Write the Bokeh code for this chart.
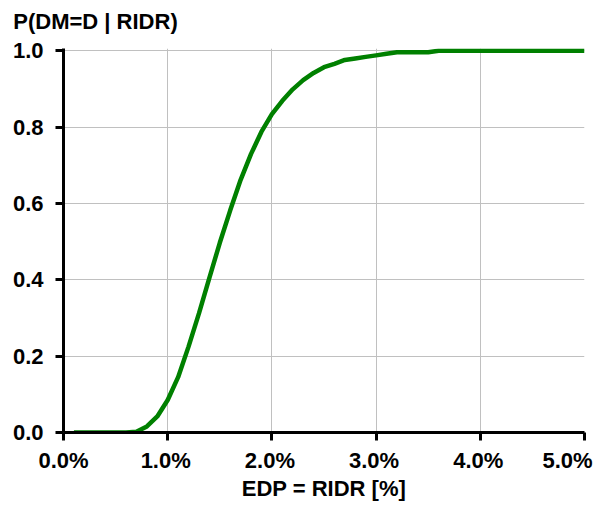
from bokeh.plotting import figure
from bokeh.models import Range1d, FixedTicker, LinearAxis
from bokeh.embed import file_html
from bokeh.resources import INLINE

# ---- data ----
edp = [0.1, 0.2, 0.3, 0.4, 0.5, 0.6, 0.7, 0.8, 0.9, 1.0,
       1.1, 1.2, 1.3, 1.4, 1.5, 1.6, 1.7, 1.8, 1.9, 2.0,
       2.1, 2.2, 2.3, 2.4, 2.5, 2.6, 2.7, 2.8, 2.9, 3.0,
       3.1, 3.2, 3.3, 3.4, 3.5, 3.6, 5.0]
prob = [0.0, 0.0, 0.0, 0.0, 0.0, 0.0, 0.002, 0.016, 0.042, 0.085,
        0.145, 0.225, 0.312, 0.405, 0.497, 0.582, 0.662, 0.730, 0.788, 0.834,
        0.869, 0.899, 0.923, 0.942, 0.957, 0.966, 0.976, 0.980, 0.984, 0.988,
        0.992, 0.996, 0.996, 0.996, 0.996, 1.0, 1.0]

x_ticks = [0, 1, 2, 3, 4, 5]
x_tick_labels = ["0.0%", "1.0%", "2.0%", "3.0%", "4.0%", "5.0%"]
y_ticks = [0.0, 0.2, 0.4, 0.6, 0.8, 1.0]
y_tick_labels = ["0.0", "0.2", "0.4", "0.6", "0.8", "1.0"]
y_title = "P(DM=D | RIDR)"
x_title = "EDP = RIDR [%]"

FONT = "Liberation Sans"
FS = "22px"

W, H = 593, 504
LEFT, RIGHT, TOP, BOTTOM = 63, 9, 48, 72
px_per_unit = (W - LEFT - RIGHT) / 5.0

p = figure(width=W, height=H, output_backend="svg", toolbar_location=None,
           x_range=Range1d(0, 5), y_range=Range1d(0, 1.006),
           min_border_left=LEFT, min_border_right=RIGHT,
           min_border_top=TOP, min_border_bottom=BOTTOM)
p.outline_line_color = None
p.background_fill_color = "white"
p.border_fill_color = "white"

# keep handles to the default axes before adding any extra ones
xax = p.below[0]
yax = p.left[0]

# grids
p.xgrid.ticker = FixedTicker(ticks=x_ticks)
p.ygrid.ticker = FixedTicker(ticks=y_ticks)
p.grid.grid_line_color = "#c0c0c0"
p.grid.grid_line_width = 1


def style_axis(ax):
    ax.axis_line_color = "black"
    ax.axis_line_width = 3
    ax.major_tick_line_color = "black"
    ax.major_tick_line_width = 3
    ax.major_tick_out = 8
    ax.major_tick_in = 0
    ax.minor_tick_line_color = None
    ax.major_label_text_font = FONT
    ax.major_label_text_font_size = FS
    ax.major_label_text_font_style = "bold"
    ax.major_label_text_color = "black"


def text_only(ax):
    style_axis(ax)
    ax.axis_line_color = None
    ax.major_tick_line_color = None
    ax.major_tick_out = 0


# y axis
style_axis(yax)
yax.ticker = FixedTicker(ticks=y_ticks)
yax.major_label_overrides = {t: l for t, l in zip(y_ticks, y_tick_labels)}
yax.major_label_standoff = 12

# x axis 1: axis line and tick marks at the true positions
style_axis(xax)
xax.ticker = FixedTicker(ticks=x_ticks)
xax.major_label_overrides = {t: "" for t in x_ticks}
xax.major_label_text_font_size = "1px"
xax.major_label_standoff = 0

# x axis 2: tick labels (last one nudged to stay inside the canvas) + title
label_nudge_px = [0, -2, -2, -2, -2, -17]
label_pos = [t + n / px_per_unit for t, n in zip(x_ticks, label_nudge_px)]
lab_ax = LinearAxis(ticker=FixedTicker(ticks=label_pos))
text_only(lab_ax)
lab_ax.major_label_overrides = {pos: s for pos, s in zip(label_pos, x_tick_labels)}
lab_ax.major_label_standoff = 7
lab_ax.axis_label = x_title
lab_ax.axis_label_text_font = FONT
lab_ax.axis_label_text_font_size = FS
lab_ax.axis_label_text_font_style = "bold"
lab_ax.axis_label_text_color = "black"
lab_ax.axis_label_standoff = 0
p.add_layout(lab_ax, "below")

# y-axis caption, set above the top-left corner of the plot
caption_center_px = 32  # caption centre, right of the frame's left edge
cap_pos = caption_center_px / px_per_unit
cap_ax = LinearAxis(ticker=FixedTicker(ticks=[cap_pos]))
text_only(cap_ax)
cap_ax.major_label_overrides = {cap_pos: y_title}
cap_ax.major_label_standoff = 15
p.add_layout(cap_ax, "above")

# curve
p.line(edp, prob, line_color="#008000", line_width=4.5)

open("out.html", "w").write(file_html(p, INLINE))
